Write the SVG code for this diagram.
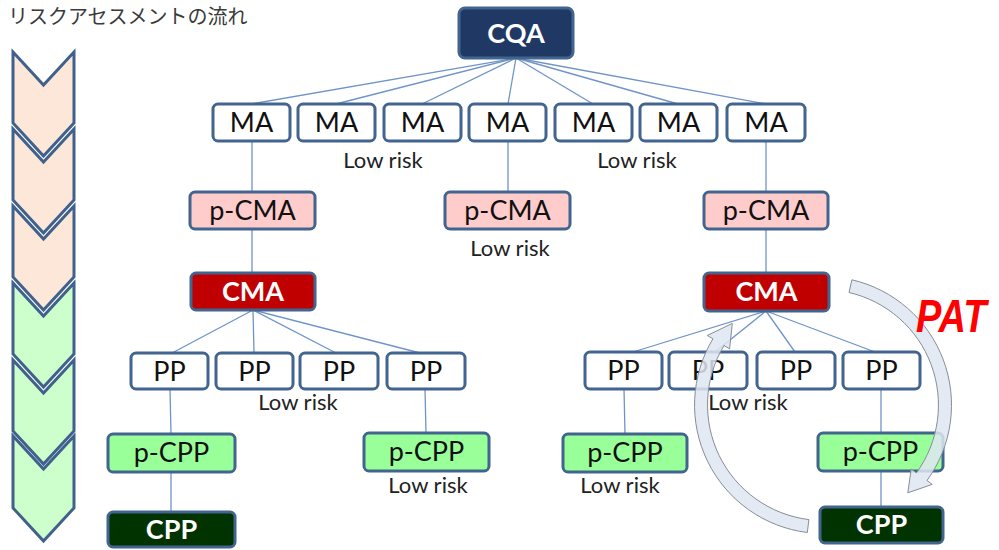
<svg xmlns="http://www.w3.org/2000/svg" width="999" height="550" viewBox="0 0 999 550">
<style>
.bx{stroke:#42658f;stroke-width:3}
.w{fill:#ffffff}
.pk{fill:#ffcccc}
.gr{fill:#99ff99}
.t{font-family:Lato,"Liberation Sans",sans-serif;font-size:27px;fill:#111;text-anchor:middle}
.tb{font-family:Lato,"Liberation Sans",sans-serif;font-size:27px;font-weight:bold;fill:#ffffff;text-anchor:middle}
.lr{font-family:Lato,"Liberation Sans",sans-serif;font-size:22px;fill:#222;text-anchor:middle}
.cn line{stroke:#6f94c8;stroke-width:1.3}
.chev{stroke:#40618c;stroke-width:3;stroke-linejoin:miter}
.cp{fill:#fde7d8}
.cg{fill:#ccffcc}
.pat{fill:#dfe6f1;fill-opacity:0.85;stroke:#858d98;stroke-width:1}
</style>

<text x="8" y="24" font-family="'Noto Sans CJK JP','Noto Sans CJK SC',sans-serif" font-size="20" fill="#3a3a3a">リスクアセスメントの流れ</text>

<g id="flow">
<path class="chev cp" d="M13,52 L43.5,85 L74,52 L74,123 L43.5,156 L13,123 Z"/>
<path class="chev cp" d="M13,129 L43.5,162 L74,129 L74,200 L43.5,233 L13,200 Z"/>
<path class="chev cp" d="M13,206 L43.5,239 L74,206 L74,277 L43.5,310 L13,277 Z"/>
<path class="chev cg" d="M13,283 L43.5,316 L74,283 L74,354 L43.5,387 L13,354 Z"/>
<path class="chev cg" d="M13,360 L43.5,393 L74,360 L74,431 L43.5,464 L13,431 Z"/>
<path class="chev cg" d="M13,436 L43.5,469 L74,436 L74,508 L43.5,541 L13,508 Z"/>
</g>

<g id="connectors" class="cn">
<line x1="516" y1="58" x2="251" y2="104"/>
<line x1="516" y1="58" x2="336" y2="104"/>
<line x1="516" y1="58" x2="422" y2="104"/>
<line x1="516" y1="58" x2="508" y2="104"/>
<line x1="516" y1="58" x2="593" y2="104"/>
<line x1="516" y1="58" x2="678" y2="104"/>
<line x1="516" y1="58" x2="766" y2="104"/>
<line x1="252" y1="141" x2="252" y2="192"/>
<line x1="252" y1="229" x2="252" y2="273"/>
<line x1="508" y1="141" x2="508" y2="192"/>
<line x1="766" y1="141" x2="766" y2="192"/>
<line x1="766" y1="229" x2="766" y2="273"/>
<line x1="253" y1="310" x2="172" y2="353"/>
<line x1="253" y1="310" x2="254" y2="353"/>
<line x1="253" y1="310" x2="336" y2="353"/>
<line x1="253" y1="310" x2="420" y2="353"/>
<line x1="170" y1="389" x2="171" y2="434"/>
<line x1="171" y1="472" x2="171" y2="512"/>
<line x1="425" y1="389" x2="426" y2="433"/>
<line x1="766" y1="311" x2="633" y2="352"/>
<line x1="766" y1="311" x2="715" y2="352"/>
<line x1="766" y1="311" x2="795" y2="352"/>
<line x1="766" y1="311" x2="875" y2="352"/>
<line x1="624" y1="389" x2="625" y2="434"/>
<line x1="881" y1="389" x2="881" y2="433"/>
<line x1="881" y1="471" x2="881" y2="507"/>
</g>

<g id="cqa"><rect class="bx" x="459" y="8" width="114" height="50" rx="6" fill="#1f3864" stroke="#3b5b88"/><text class="tb" x="516" y="43" font-size="28">CQA</text></g>

<g id="ma1"><rect class="bx w" x="213" y="104" width="77" height="37" rx="5"/><text class="t" x="251.5" y="132" font-size="28">MA</text></g>
<g id="ma2"><rect class="bx w" x="298" y="104" width="77" height="37" rx="5"/><text class="t" x="336.5" y="132" font-size="28">MA</text></g>
<g id="ma3"><rect class="bx w" x="384" y="104" width="77" height="37" rx="5"/><text class="t" x="422.5" y="132" font-size="28">MA</text></g>
<g id="ma4"><rect class="bx w" x="469" y="104" width="77" height="37" rx="5"/><text class="t" x="507.5" y="132" font-size="28">MA</text></g>
<g id="ma5"><rect class="bx w" x="555" y="104" width="77" height="37" rx="5"/><text class="t" x="593.5" y="132" font-size="28">MA</text></g>
<g id="ma6"><rect class="bx w" x="640" y="104" width="77" height="37" rx="5"/><text class="t" x="678.5" y="132" font-size="28">MA</text></g>
<g id="ma7"><rect class="bx w" x="727" y="104" width="78" height="37" rx="5"/><text class="t" x="766" y="132" font-size="28">MA</text></g>

<text class="lr" x="383" y="168">Low risk</text>
<text class="lr" x="637" y="168">Low risk</text>

<g id="pcma1"><rect class="bx pk" x="190" y="192" width="125" height="37" rx="5"/><text class="t" x="252.5" y="220">p-CMA</text></g>
<g id="pcma2"><rect class="bx pk" x="445" y="192" width="125" height="37" rx="5"/><text class="t" x="507.5" y="220">p-CMA</text></g>
<g id="pcma3"><rect class="bx pk" x="704" y="192" width="124" height="37" rx="5"/><text class="t" x="766" y="220">p-CMA</text></g>
<text class="lr" x="510" y="256">Low risk</text>

<g id="cma1"><rect class="bx" x="191" y="273" width="124" height="37" rx="5" fill="#c00000"/><text class="tb" x="253" y="301">CMA</text></g>
<g id="cma2"><rect class="bx" x="704" y="273" width="125" height="38" rx="5" fill="#c00000"/><text class="tb" x="766.5" y="301">CMA</text></g>

<g id="pp1"><rect class="bx w" x="131" y="353" width="77" height="36" rx="5"/><text class="t" x="169.5" y="381">PP</text></g>
<g id="pp2"><rect class="bx w" x="216" y="353" width="77" height="36" rx="5"/><text class="t" x="254.5" y="381">PP</text></g>
<g id="pp3"><rect class="bx w" x="300" y="353" width="78" height="36" rx="5"/><text class="t" x="339" y="381">PP</text></g>
<g id="pp4"><rect class="bx w" x="387" y="353" width="78" height="36" rx="5"/><text class="t" x="426" y="381">PP</text></g>
<text class="lr" x="298" y="410">Low risk</text>

<g id="pp5"><rect class="bx w" x="585" y="352" width="77" height="37" rx="5"/><text class="t" x="623.5" y="380">PP</text></g>
<g id="pp6"><rect class="bx w" x="669" y="352" width="78" height="37" rx="5"/><text class="t" x="708" y="380">PP</text></g>
<g id="pp7"><rect class="bx w" x="757" y="352" width="78" height="37" rx="5"/><text class="t" x="796" y="380">PP</text></g>
<g id="pp8"><rect class="bx w" x="843" y="352" width="77" height="37" rx="5"/><text class="t" x="881.5" y="380">PP</text></g>
<text class="lr" x="748" y="410">Low risk</text>

<g id="pcpp1"><rect class="bx gr" x="108" y="434" width="127" height="38" rx="5"/><text class="t" x="171.5" y="462">p-CPP</text></g>
<g id="pcpp2"><rect class="bx gr" x="364" y="433" width="125" height="38" rx="5"/><text class="t" x="426.5" y="461">p-CPP</text></g>
<g id="pcpp3"><rect class="bx gr" x="563" y="434" width="124" height="38" rx="5"/><text class="t" x="625" y="462">p-CPP</text></g>
<g id="pcpp4"><rect class="bx gr" x="818" y="433" width="125" height="38" rx="5"/><text class="t" x="880.5" y="461">p-CPP</text></g>
<text class="lr" x="428" y="493">Low risk</text>
<text class="lr" x="620" y="493">Low risk</text>

<g id="cpp1"><rect class="bx" x="108" y="512" width="127" height="35" rx="5" fill="#003300"/><text class="tb" x="171.5" y="539">CPP</text></g>
<g id="cpp2"><rect class="bx" x="820" y="507" width="123" height="36" rx="5" fill="#003300"/><text class="tb" x="881.5" y="534">CPP</text></g>

<g id="pat-cycle">
<path class="pat" d="M851.9,279.8 A128.5,128.5 0 0 1 927.0,480.5 L932.2,484.4 L907.8,492.8 L911.2,469.1 L916.4,472.9 A115.5,115.5 0 0 0 849.0,292.5 Z"/>
<path class="pat" d="M807.3,532.5 A128.5,128.5 0 0 1 712.9,338.8 L707.3,335.5 L732.3,323.4 L729.6,348.9 L724.0,345.5 A115.5,115.5 0 0 0 808.9,519.6 Z"/>
</g>

<text transform="translate(916,332) scale(0.95,1.15)" x="0" y="0" font-family="'Liberation Sans',Arial,sans-serif" font-size="40" font-weight="bold" font-style="italic" fill="#ff0000">PAT</text>
</svg>
